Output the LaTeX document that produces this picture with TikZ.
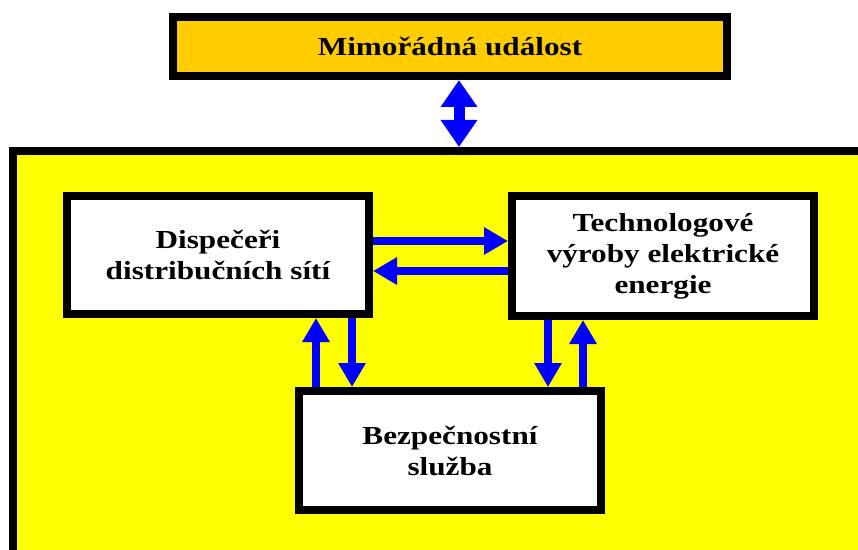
\documentclass[tikz,border=0pt]{standalone}
\usepackage{fontspec}
\setmainfont{Liberation Serif}[FakeStretch=1.2]
\usetikzlibrary{arrows.meta}
\definecolor{evt}{RGB}{255,204,0}
\definecolor{plantbg}{RGB}{255,255,0}
\definecolor{flow}{RGB}{0,0,255}
\tikzset{
  box/.style={draw=black, line width=8pt, fill=white, align=center,
    font=\fontsize{26}{31}\selectfont\bfseries, inner sep=0pt},
  unitbox/.style={box, minimum width=302pt},
  flowarr/.style={draw=flow, line width=8.5pt, -{Triangle[length=24pt,width=26pt]}},
  linkarr/.style={draw=flow, line width=11pt,
    {Triangle[length=27pt,width=35pt]}-{Triangle[length=27pt,width=35pt]}}
}
\begin{document}
\begin{tikzpicture}[x=1pt,y=1pt]
\useasboundingbox (0,0) rectangle (858,549);
\clip (0,0) rectangle (858,549);
\fill[white] (0,0) rectangle (858,549);

% event box and the framed area below it
\node[box, fill=evt, minimum width=554pt, minimum height=59pt] (evt) at (450,502.5) {Mimořádná událost};
\node[box, fill=plantbg, minimum width=867pt, minimum height=429pt] (plant) at (446.5,183.5) {};

% units inside the framed area
\node[unitbox, minimum height=118pt] (disp) at (218,294) {Dispečeři\\distribučních sítí};
\node[unitbox, minimum height=120pt] (tech) at (663,293) {Technologové\\výroby elektrické\\energie};
\node[unitbox, minimum height=119pt] (sec) at (450,98.5) {Bezpečnostní\\služba};

% link between the event and the framed area
\coordinate (evtlink) at ([xshift=9pt]evt.south);
\draw[linkarr] (evtlink) -- (evtlink |- plant.north);

% exchange between dispatchers and technologists
\coordinate (dtop) at ([yshift=14pt]disp.east);
\coordinate (dbot) at ([yshift=-16pt]disp.east);
\draw[flowarr] (dtop) -- (dtop -| tech.west);
\draw[flowarr] (dbot -| tech.west) -- (dbot);

% exchange with the security service
\coordinate (dup) at ([xshift=98pt]disp.south);
\coordinate (ddown) at ([xshift=134pt]disp.south);
\coordinate (tdown) at ([xshift=-115pt]tech.south);
\coordinate (tup) at ([xshift=-80pt]tech.south);
\draw[flowarr] (dup |- sec.north) -- (dup);
\draw[flowarr] (ddown) -- (ddown |- sec.north);
\draw[flowarr] (tdown) -- (tdown |- sec.north);
\draw[flowarr] (tup |- sec.north) -- (tup);
\end{tikzpicture}
\end{document}
